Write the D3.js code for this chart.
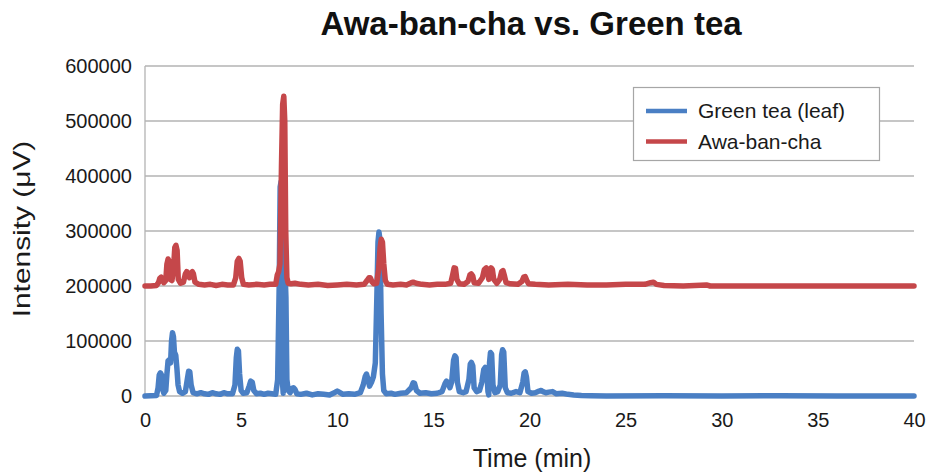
<!DOCTYPE html>
<html>
<head>
<meta charset="utf-8">
<script src="https://cdn.jsdelivr.net/npm/d3@7"></script>
<style>
  html, body { margin: 0; padding: 0; background: #fff; }
  svg { display: block; font-family: "Liberation Sans", Arial, Helvetica, sans-serif; }
</style>
</head>
<body>
<svg id="chart" width="929" height="473"></svg>
<script>
// Retention time (min) and detector intensity (µV) for each trace
const greenTeaTime = [0, 0.3, 0.6, 0.68, 0.74, 0.8, 0.86, 0.92, 0.98, 1.08, 1.14, 1.2, 1.27, 1.33, 1.38, 1.43, 1.48, 1.53, 1.6, 1.66, 1.72, 1.8, 1.95, 2.1, 2.2, 2.27, 2.33, 2.4, 2.5, 2.7, 2.9, 3.1, 3.3, 3.5, 3.7, 3.9, 4.1, 4.3, 4.55, 4.68, 4.75, 4.8, 4.86, 4.92, 5.0, 5.1, 5.3, 5.42, 5.5, 5.58, 5.66, 5.8, 6.0, 6.2, 6.4, 6.6, 6.8, 6.9, 6.98, 7.03, 7.08, 7.12, 7.16, 7.19, 7.23, 7.28, 7.33, 7.38, 7.45, 7.55, 7.65, 7.72, 7.8, 7.9, 8.1, 8.4, 8.7, 9.0, 9.3, 9.6, 9.9, 10.0, 10.1, 10.3, 10.6, 10.9, 11.2, 11.35, 11.45, 11.52, 11.6, 11.68, 11.78, 11.88, 11.98, 12.06, 12.12, 12.17, 12.22, 12.28, 12.35, 12.42, 12.55, 12.8, 13.0, 13.3, 13.6, 13.85, 13.95, 14.02, 14.12, 14.3, 14.6, 14.9, 15.2, 15.45, 15.6, 15.68, 15.76, 15.86, 15.95, 16.05, 16.12, 16.18, 16.25, 16.35, 16.55, 16.7, 16.85, 16.92, 16.98, 17.05, 17.12, 17.25, 17.4, 17.52, 17.62, 17.7, 17.78, 17.84, 17.88, 17.92, 17.97, 18.03, 18.1, 18.2, 18.35, 18.48, 18.55, 18.6, 18.66, 18.74, 18.85, 19.05, 19.3, 19.5, 19.65, 19.72, 19.78, 19.84, 19.92, 20.1, 20.3, 20.5, 20.6, 20.7, 20.85, 21.0, 21.2, 21.4, 21.7, 22.0, 22.3, 22.7, 23.2, 24.0, 27.0, 30.0, 33.0, 36.0, 40.0];
const greenTeaIntensity = [0, 500, 1000, 15000, 38000, 42000, 38000, 12000, 5000, 10000, 40000, 64000, 66000, 60000, 100000, 115000, 108000, 80000, 74000, 50000, 20000, 8000, 5000, 8000, 30000, 45000, 44000, 20000, 6000, 4000, 6000, 4000, 3000, 6000, 4000, 3000, 6000, 4000, 4000, 20000, 70000, 85000, 82000, 40000, 10000, 5000, 6000, 18000, 27000, 25000, 10000, 4000, 5000, 3000, 5000, 4000, 3000, 30000, 200000, 380000, 390000, 250000, 20000, 5000, 100000, 230000, 180000, 30000, 10000, 6000, 14000, 15000, 12000, 4000, 3000, 5000, 2000, 4000, 3000, 2000, 7000, 9000, 7000, 3000, 4000, 3000, 6000, 20000, 35000, 40000, 30000, 18000, 25000, 35000, 60000, 180000, 280000, 298000, 285000, 150000, 40000, 10000, 4000, 5000, 3000, 5000, 6000, 15000, 24000, 23000, 10000, 5000, 6000, 4000, 5000, 8000, 22000, 27000, 24000, 15000, 25000, 65000, 73000, 70000, 25000, 8000, 6000, 8000, 30000, 58000, 61000, 55000, 15000, 8000, 10000, 25000, 48000, 52000, 45000, 8000, 2000, 60000, 79000, 76000, 20000, 6000, 8000, 20000, 75000, 84000, 80000, 15000, 6000, 5000, 8000, 6000, 25000, 42000, 44000, 35000, 8000, 5000, 6000, 9000, 10000, 8000, 6000, 7000, 8000, 4000, 5000, 3000, 2000, 1000, 500, 0, 500, 0, 500, 0, 0];

const awaBanChaTime = [0, 0.3, 0.6, 0.7, 0.77, 0.84, 0.92, 0.98, 1.08, 1.14, 1.2, 1.26, 1.32, 1.4, 1.48, 1.55, 1.61, 1.67, 1.73, 1.85, 2.0, 2.1, 2.17, 2.25, 2.32, 2.4, 2.46, 2.52, 2.6, 2.8, 3.1, 3.4, 3.7, 4.0, 4.3, 4.6, 4.72, 4.8, 4.88, 4.95, 5.03, 5.12, 5.4, 5.8, 6.2, 6.5, 6.8, 6.88, 6.95, 7.02, 7.1, 7.16, 7.22, 7.27, 7.32, 7.38, 7.45, 7.6, 7.8, 8.1, 8.5, 9.0, 9.5, 10.0, 10.5, 11.0, 11.4, 11.55, 11.65, 11.72, 11.8, 11.9, 12.05, 12.15, 12.23, 12.29, 12.35, 12.42, 12.5, 12.6, 12.9, 13.3, 13.6, 13.85, 13.95, 14.1, 14.4, 14.8, 15.2, 15.6, 15.9, 16.0, 16.08, 16.15, 16.22, 16.35, 16.6, 16.8, 16.9, 16.97, 17.05, 17.12, 17.35, 17.55, 17.65, 17.75, 17.82, 17.88, 17.93, 18.0, 18.07, 18.14, 18.3, 18.45, 18.55, 18.62, 18.7, 18.78, 19.0, 19.4, 19.6, 19.7, 19.78, 19.86, 19.95, 20.3, 21.0, 22.0, 23.0, 24.0, 25.0, 26.0, 26.3, 26.45, 26.6, 27.0, 28.0, 29.2, 29.4, 32.0, 36.0, 40.0];
const awaBanChaIntensity = [200000, 200000, 201000, 206000, 214000, 216000, 210000, 206000, 210000, 240000, 249000, 245000, 212000, 210000, 230000, 270000, 274000, 265000, 212000, 205000, 207000, 222000, 226000, 222000, 215000, 224000, 226000, 222000, 207000, 203000, 202000, 203000, 201000, 203000, 202000, 202000, 215000, 245000, 250000, 245000, 215000, 203000, 202000, 203000, 202000, 203000, 203000, 220000, 226000, 240000, 420000, 530000, 545000, 500000, 300000, 215000, 205000, 204000, 205000, 203000, 202000, 203000, 201000, 202000, 203000, 202000, 203000, 210000, 215000, 215000, 208000, 204000, 205000, 230000, 270000, 285000, 280000, 240000, 210000, 203000, 202000, 203000, 202000, 206000, 207000, 205000, 203000, 202000, 203000, 203000, 205000, 220000, 233000, 232000, 212000, 204000, 203000, 208000, 220000, 222000, 218000, 206000, 205000, 215000, 230000, 233000, 225000, 212000, 228000, 233000, 230000, 212000, 205000, 212000, 226000, 228000, 218000, 206000, 204000, 203000, 208000, 216000, 217000, 210000, 204000, 203000, 202000, 203000, 202000, 202000, 203000, 203000, 206000, 207000, 203000, 201000, 200000, 202000, 200000, 200000, 200000, 200000];

const seriesNames = ["Green tea (leaf)", "Awa-ban-cha"];
const seriesColors = ["#4a7fc4", "#c5474a"];
const xTicks = [0, 5, 10, 15, 20, 25, 30, 35, 40];
const yTicks = [0, 100000, 200000, 300000, 400000, 500000, 600000];

const chartTitle = "Awa-ban-cha vs. Green tea";
const xTitle = "Time (min)";
const yTitle = "Intensity (\u03bcV)";

const svg = d3.select("#chart");
const plot = { left: 145, right: 914, top: 66, bottom: 396 };

const x = d3.scaleLinear().domain([0, 40]).range([plot.left, plot.right]);
const y = d3.scaleLinear().domain([0, 600000]).range([plot.bottom, plot.top]);

// Horizontal gridlines
svg.append("g")
  .selectAll("line")
  .data(yTicks)
  .join("line")
  .attr("x1", plot.left).attr("x2", plot.right)
  .attr("y1", d => y(d)).attr("y2", d => y(d))
  .attr("stroke", "#b3b3b3").attr("stroke-width", 1.3);

// Left axis line
svg.append("line")
  .attr("x1", plot.left).attr("x2", plot.left)
  .attr("y1", plot.top).attr("y2", plot.bottom)
  .attr("stroke", "#b3b3b3").attr("stroke-width", 1.3);

// Y axis labels
const yAxis = d3.axisLeft(y).tickValues(yTicks).tickFormat(d3.format("d")).tickSize(0).tickPadding(13);
const gy = svg.append("g").attr("transform", `translate(${plot.left},0)`).call(yAxis);
gy.select(".domain").remove();
gy.selectAll("text").attr("font-size", 20).attr("fill", "#1a1a1a").attr("font-family", "Liberation Sans, Arial, sans-serif");

// X axis labels
const xAxis = d3.axisBottom(x).tickValues(xTicks).tickFormat(d3.format("d")).tickSize(0).tickPadding(17);
const gx = svg.append("g").attr("transform", `translate(0,${plot.bottom})`).call(xAxis);
gx.select(".domain").remove();
gx.selectAll("text").attr("font-size", 20).attr("fill", "#1a1a1a").attr("font-family", "Liberation Sans, Arial, sans-serif");

// Traces
const line = d3.line().x(d => x(d[0])).y(d => y(d[1]));
const traces = [
  d3.zip(greenTeaTime, greenTeaIntensity),
  d3.zip(awaBanChaTime, awaBanChaIntensity)
];
svg.append("g")
  .selectAll("path")
  .data(traces)
  .join("path")
  .attr("d", line)
  .attr("fill", "none")
  .attr("stroke", (d, i) => seriesColors[i])
  .attr("stroke-width", 5.5)
  .attr("stroke-linejoin", "round")
  .attr("stroke-linecap", "round");

// Legend
const legend = svg.append("g");
legend.append("rect")
  .attr("x", 633.5).attr("y", 87.5).attr("width", 246).attr("height", 73)
  .attr("fill", "#fff").attr("stroke", "#a6a6a6").attr("stroke-width", 1.2);
seriesNames.forEach((name, i) => {
  const cy = 111 + i * 30.5;
  legend.append("line")
    .attr("x1", 646).attr("x2", 687).attr("y1", cy).attr("y2", cy)
    .attr("stroke", seriesColors[i]).attr("stroke-width", 4.5);
  legend.append("text")
    .attr("x", 698).attr("y", cy).attr("dy", "0.35em")
    .attr("font-size", 21).attr("fill", "#1a1a1a")
    .text(name);
});

// Titles
svg.append("text")
  .attr("x", 531).attr("y", 35)
  .attr("text-anchor", "middle")
  .attr("font-size", 33).attr("font-weight", "bold").attr("fill", "#111")
  .text(chartTitle);

svg.append("text")
  .attr("x", 532).attr("y", 467)
  .attr("text-anchor", "middle")
  .attr("font-size", 25).attr("fill", "#1a1a1a")
  .text(xTitle);

svg.append("text")
  .attr("transform", "translate(30,229) rotate(-90) scale(1.3,1)")
  .attr("text-anchor", "middle")
  .attr("font-size", 23).attr("fill", "#1a1a1a")
  .text(yTitle);
</script>
</body>
</html>
